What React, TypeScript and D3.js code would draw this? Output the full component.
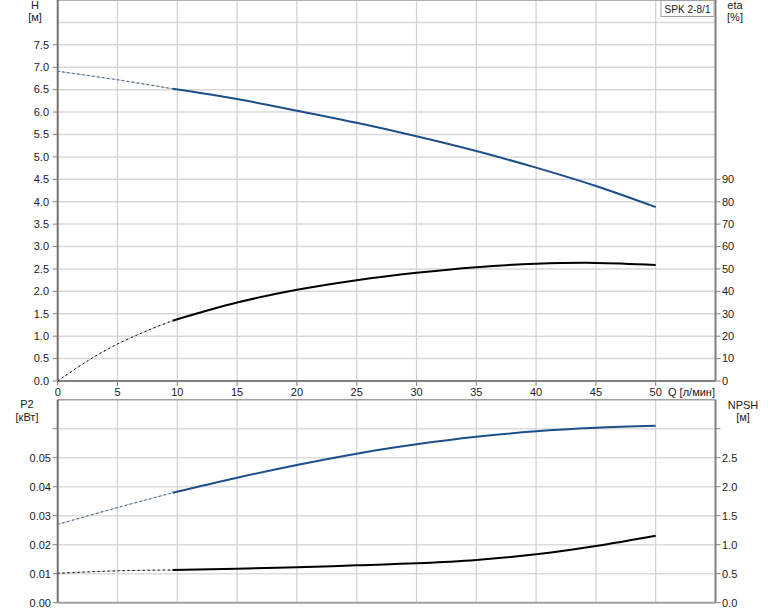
import React from "react";
import * as d3 from "d3";

const qTicks = [0, 5, 10, 15, 20, 25, 30, 35, 40, 45, 50];
const hTicks = [0, 0.5, 1, 1.5, 2, 2.5, 3, 3.5, 4, 4.5, 5, 5.5, 6, 6.5, 7, 7.5];
const etaTicks = [0, 10, 20, 30, 40, 50, 60, 70, 80, 90];
const p2Ticks = [0, 0.01, 0.02, 0.03, 0.04, 0.05];
const npshTicks = [0, 0.5, 1, 1.5, 2, 2.5];

// H curve
const hQ = [9.6, 15, 20, 25, 30, 35, 40, 45, 50];
const hVal = [6.52, 6.29, 6.03, 5.76, 5.46, 5.13, 4.76, 4.35, 3.88];
const hDotQ = [0, 5, 9.6];
const hDotVal = [6.91, 6.72, 6.52];

// eta curve
const etaQ = [9.6, 15, 20, 25, 30, 35, 40, 45, 50];
const etaVal = [26.9, 35.0, 40.7, 45.0, 48.3, 50.8, 52.3, 52.7, 51.8];
const etaDotQ = [0, 2.5, 5, 7.5, 9.6];
const etaDotVal = [0, 9, 16.5, 22.5, 26.9];

// P2 curve
const p2Q = [9.6, 15, 20, 25, 30, 35, 40, 45, 50];
const p2Val = [0.0379, 0.0431, 0.0475, 0.0514, 0.0546, 0.0572, 0.0591, 0.0603, 0.061];
const p2DotQ = [0, 5, 9.6];
const p2DotVal = [0.027, 0.0328, 0.0379];

// NPSH curve
const npQ = [9.6, 15, 20, 25, 30, 35, 40, 45, 50];
const npVal = [0.564, 0.586, 0.61, 0.645, 0.679, 0.736, 0.834, 0.978, 1.155];
const npDotQ = [0, 5, 9.6];
const npDotVal = [0.507, 0.55, 0.564];

const BLUE = "#1b4f8a";
const FONT = "Arial, 'Liberation Sans', sans-serif";
const TXT = "#222";

export default function App() {
  const W = 774, Hh = 611;
  const x = d3.scaleLinear().domain([0, 55]).range([57.7, 715.5]);
  const yH = d3.scaleLinear().domain([0, 8.5]).range([381, 0]);
  const yEta = d3.scaleLinear().domain([0, 170]).range([381, 0]);
  const yP2 = d3.scaleLinear().domain([0, 0.07]).range([602.7, 399.7]);
  const yNp = d3.scaleLinear().domain([0, 3.5]).range([602.7, 399.7]);

  const mk = (ys: d3.ScaleLinear<number, number>, qs: number[], vs: number[]) =>
    d3.line<number>().x((_, i) => x(qs[i])).y((_, i) => ys(vs[i])).curve(d3.curveCatmullRom.alpha(0.5))(vs) || "";

  const left = x(0), right = x(55);
  const topY = yH(8.5), botY = yH(0);
  const bTop = yP2(0.07), bBot = yP2(0);

  const vGrid = qTicks.filter(q => q > 0);
  const hGridTop = d3.range(1, 17).map(i => i * 0.5);
  const hGridBot = d3.range(1, 7).map(i => i * 0.01);

  const dotted = (d: string, color: string) => (
    <g>
      <path d={d} fill="none" stroke="#c4c4c4" strokeWidth={1} />
      <path d={d} fill="none" stroke={color} strokeWidth={1} strokeDasharray="2,3" />
    </g>
  );

  return (
    <svg width={W} height={Hh} style={{ position: "absolute", left: 0, top: 0 }} fontFamily={FONT} fontSize={11}>
      <rect width={W} height={Hh} fill="#fff" />
      {/* top panel grid */}
      {hGridTop.map(v => (
        <line key={"ht" + v} x1={left} x2={right} y1={yH(v)} y2={yH(v)} stroke="#d8d8d8" strokeWidth={1.5} />
      ))}
      {vGrid.map(q => (
        <line key={"vt" + q} x1={x(q)} x2={x(q)} y1={topY} y2={botY} stroke="#d0d0d0" strokeWidth={1.2} />
      ))}
      {/* bottom panel grid */}
      {hGridBot.map(v => (
        <line key={"hb" + v} x1={left} x2={right} y1={yP2(v)} y2={yP2(v)} stroke="#dcdcdc" strokeWidth={1.5} />
      ))}
      {vGrid.map(q => (
        <line key={"vb" + q} x1={x(q)} x2={x(q)} y1={bTop} y2={bBot} stroke="#d0d0d0" strokeWidth={1.2} />
      ))}

      {/* frames */}
      <line x1={left} x2={right} y1={topY + 0.5} y2={topY + 0.5} stroke="#b0b0b0" strokeWidth={1} />
      <line x1={left} x2={right} y1={bTop} y2={bTop} stroke="#a0a0a0" strokeWidth={1.5} />
      <line x1={left} x2={left} y1={topY} y2={botY} stroke="#707070" strokeWidth={2} />
      <line x1={right} x2={right} y1={topY} y2={botY} stroke="#808080" strokeWidth={2} />
      <line x1={left} x2={right} y1={botY} y2={botY} stroke="#808080" strokeWidth={2} />
      <line x1={left} x2={left} y1={bTop} y2={bBot} stroke="#707070" strokeWidth={2} />
      <line x1={right} x2={right} y1={bTop} y2={bBot} stroke="#808080" strokeWidth={2} />
      <line x1={left} x2={right} y1={bBot} y2={bBot} stroke="#a0a0a0" strokeWidth={2} />

      {/* top left axis */}
      {hTicks.map(v => (
        <g key={"hl" + v}>
          <line x1={left - 5} x2={left} y1={yH(v)} y2={yH(v)} stroke="#808080" strokeWidth={1} />
          <text x={49} y={yH(v)} dy="0.35em" textAnchor="end" fill={TXT}>{v.toFixed(1)}</text>
        </g>
      ))}
      <text x={35} y={9} textAnchor="middle" fill={TXT}>H</text>
      <text x={35} y={21} textAnchor="middle" fill={TXT}>[м]</text>

      {/* eta right axis */}
      {etaTicks.map(v => (
        <g key={"er" + v}>
          <line x1={right} x2={right + 5} y1={yEta(v)} y2={yEta(v)} stroke="#808080" strokeWidth={1} />
          <text x={722} y={yEta(v)} dy="0.35em" textAnchor="start" fill={TXT}>{v}</text>
        </g>
      ))}
      <text x={735} y={9} textAnchor="middle" fill={TXT}>eta</text>
      <text x={735} y={21} textAnchor="middle" fill={TXT}>[%]</text>

      {/* x axis */}
      {qTicks.map(q => (
        <g key={"xq" + q}>
          <line x1={x(q)} x2={x(q)} y1={botY} y2={botY + 5} stroke="#808080" strokeWidth={1} />
          <text x={x(q)} y={396} textAnchor="middle" fill={TXT}>{q}</text>
        </g>
      ))}
      <text x={668} y={396} textAnchor="start" fill={TXT}>Q [л/мин]</text>

      {/* legend */}
      <rect x={661} y={0.5} width={53} height={16} fill="#fff" stroke="#a0a0a0" strokeWidth={1} />
      <text x={664.5} y={12.5} fill={TXT} textLength={46} lengthAdjust="spacingAndGlyphs">SPK 2-8/1</text>

      {/* bottom left axis */}
      {[...p2Ticks, 0.06].map(v => (
        <line key={"pl" + v} x1={left - 5} x2={left} y1={yP2(v)} y2={yP2(v)} stroke="#808080" strokeWidth={1} />
      ))}
      {p2Ticks.map(v => (
        <text key={"pt" + v} x={51} y={yP2(v)} dy="0.35em" textAnchor="end" fill={TXT}>{v.toFixed(2)}</text>
      ))}
      <text x={27} y={408} textAnchor="middle" fill={TXT}>P2</text>
      <text x={27} y={421} textAnchor="middle" fill={TXT}>[кВт]</text>

      {/* NPSH right axis */}
      {[...npshTicks, 3].map(v => (
        <line key={"nl" + v} x1={right} x2={right + 5} y1={yNp(v)} y2={yNp(v)} stroke="#808080" strokeWidth={1} />
      ))}
      {npshTicks.map(v => (
        <text key={"nt" + v} x={722} y={yNp(v)} dy="0.35em" textAnchor="start" fill={TXT}>{v.toFixed(1)}</text>
      ))}
      <text x={743} y={409} textAnchor="middle" fill={TXT}>NPSH</text>
      <text x={743} y={421} textAnchor="middle" fill={TXT}>[м]</text>

      {/* curves */}
      {dotted(mk(yH, hDotQ, hDotVal), BLUE)}
      <path d={mk(yH, hQ, hVal)} fill="none" stroke={BLUE} strokeWidth={2} />
      {dotted(mk(yEta, etaDotQ, etaDotVal), "#000")}
      <path d={mk(yEta, etaQ, etaVal)} fill="none" stroke="#000" strokeWidth={2} />
      {dotted(mk(yP2, p2DotQ, p2DotVal), BLUE)}
      <path d={mk(yP2, p2Q, p2Val)} fill="none" stroke={BLUE} strokeWidth={2} />
      {dotted(mk(yNp, npDotQ, npDotVal), "#000")}
      <path d={mk(yNp, npQ, npVal)} fill="none" stroke="#000" strokeWidth={2} />
    </svg>
  );
}
